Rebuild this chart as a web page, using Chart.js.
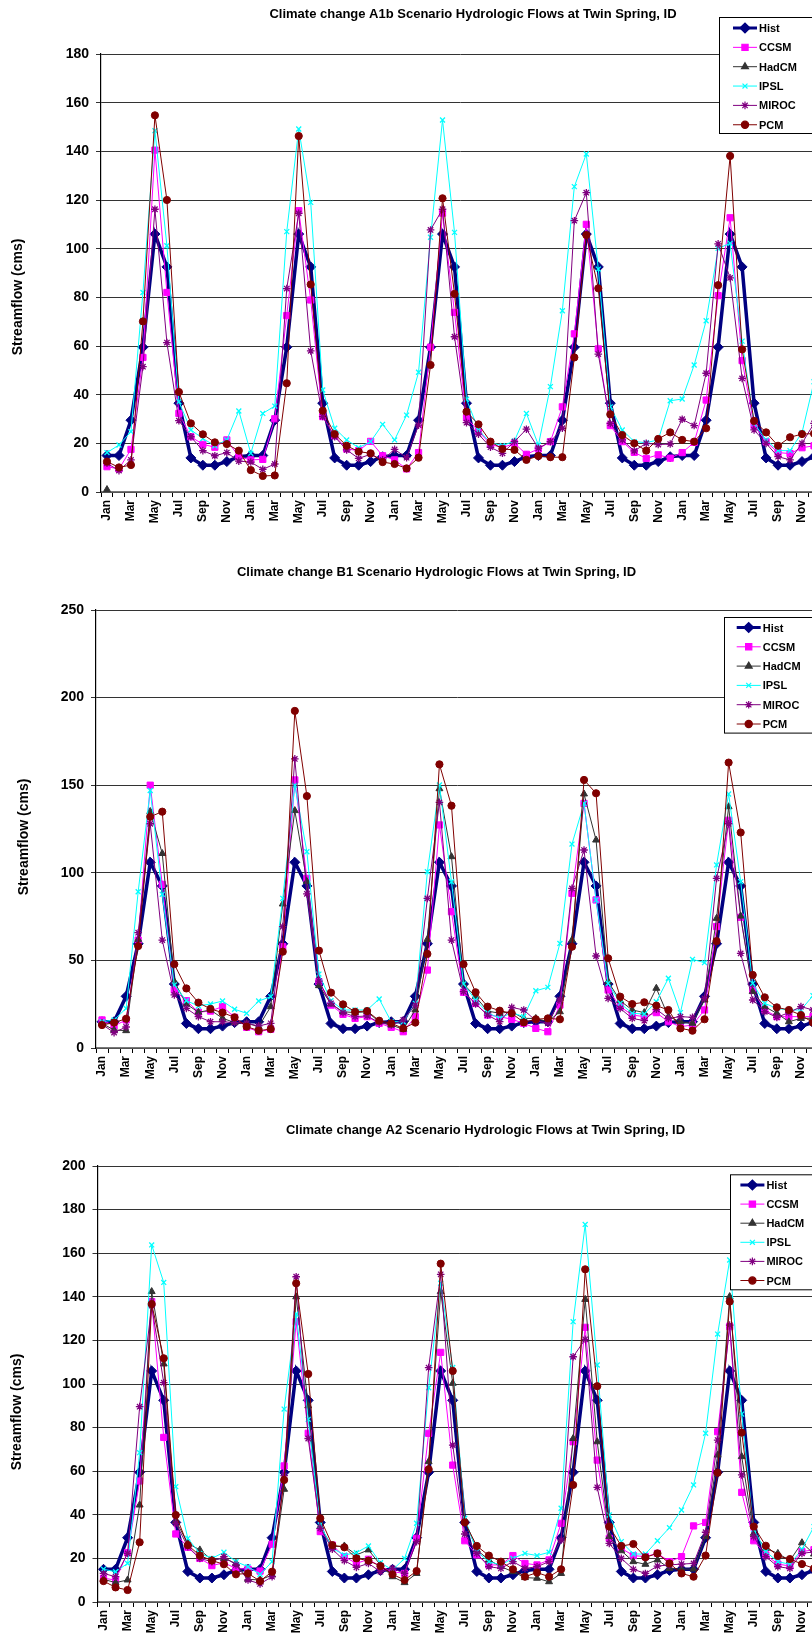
<!DOCTYPE html>
<html>
<head>
<meta charset="utf-8">
<script src="https://cdn.jsdelivr.net/npm/chart.js@4.4.0/dist/chart.umd.min.js"></script>
<style>
  html, body { margin: 0; padding: 0; background: #fff; }
  body { width: 812px; height: 1648px; overflow: hidden; position: relative; }
  canvas { position: absolute; left: 0; }
</style>
</head>
<body>
<canvas id="chartA1b" width="840" height="540" style="top:0px"></canvas>
<canvas id="chartB1" width="840" height="560" style="top:540px"></canvas>
<canvas id="chartA2" width="840" height="548" style="top:1100px"></canvas>
<script>
// month labels, five water years
const monthNames = ['Jan','Feb','Mar','Apr','May','Jun','Jul','Aug','Sep','Oct','Nov','Dec'];
const months = [].concat(monthNames, monthNames, monthNames, monthNames, monthNames);

// historical flows (same in every scenario)
const hist = [
  15, 15, 29.5, 59.5, 106, 92.5, 36.5, 14, 11, 11, 12.5, 14.5,
  15, 15, 29.5, 59.5, 106, 92.5, 36.5, 14, 11, 11, 12.5, 14.5,
  15, 15, 29.5, 59.5, 106, 92.5, 36.5, 14, 11, 11, 12.5, 14.5,
  15, 15, 29.5, 59.5, 106, 92.5, 36.5, 14, 11, 11, 12.5, 14.5,
  15, 15, 29.5, 59.5, 106, 92.5, 36.5, 14, 11, 11, 12.5, 14.5
];

// A1b scenario
const ccsmA1b = [
  10.4, 9.5, 17.5, 55.3, 140.5, 82, 32.3, 22.7, 19.6, 18.4, 21.4, 14.5,
  13.2, 13.4, 30.1, 72.5, 115.6, 78.9, 31, 23.1, 17.7, 17, 20.8, 14.9,
  13.2, 9.5, 16.2, 59.5, 114.6, 73.8, 30.5, 25, 19.6, 18.2, 20, 15.5,
  17.7, 20.7, 35, 65, 110, 58.8, 27.3, 20.7, 16.3, 13.8, 15.3, 13.9,
  16.2, 20.4, 37.8, 80.7, 112.7, 54, 27.3, 20.7, 16.2, 15.8, 18.2, 19
];
const hadcmA1b = [1];
const ipslA1b = [
  16.2, 19.3, 24.8, 82, 148.5, 101.2, 37.1, 25.5, 22, 19, 21.4, 33.3,
  15.9, 32.3, 35.3, 107, 149.2, 119, 41.9, 26.2, 21.4, 18.2, 20.7, 27.8,
  21.4, 31.6, 49.2, 104.7, 152.9, 106.7, 38.1, 25.5, 20.3, 19, 21, 32.3,
  19.3, 43.3, 74.5, 125.5, 138.9, 91.6, 35, 25.5, 20.7, 20.3, 21.4, 37.5,
  38.2, 52.2, 70.4, 100.1, 102.2, 62, 28.2, 21.4, 17, 17, 24.4, 45.3
];
const mirocA1b = [
  11.8, 8.8, 13.2, 51.5, 116.2, 61.4, 29.3, 22.7, 17, 14.9, 16.2, 12.7,
  12.3, 9.3, 11.5, 83.6, 114.5, 58, 31, 22.7, 17.3, 13.8, 15.5, 13.2,
  17.5, 14.1, 27.5, 107.7, 116.2, 63.8, 28.5, 23.8, 18.4, 15.9, 20.7, 25.8,
  18, 20.7, 26.2, 111.5, 123, 56.7, 28.2, 21.4, 16.9, 20, 19.5, 19.7,
  29.9, 27.3, 48.8, 102, 88, 46.7, 25.5, 20, 14.5, 13.2, 20, 28.2
];
const pcmA1b = [
  12.5, 10.1, 11.1, 70.1, 154.8, 120, 41.1, 28.2, 23.7, 20.4, 19.7, 17,
  9, 6.6, 6.8, 44.7, 146.3, 85.3, 33.4, 23.8, 19, 16.6, 15.9, 12.3,
  11.5, 9.7, 14.1, 52.2, 120.7, 81.4, 33, 27.8, 20.7, 17.7, 17.3, 13.2,
  14.8, 14.3, 14.3, 55.3, 105.6, 83.7, 31.9, 23.4, 20, 17, 21.8, 24.5,
  21.4, 20.7, 26.2, 85, 138.1, 58.6, 29.2, 24.5, 19, 22.5, 23.8, 24
];

// B1 scenario
const ccsmB1 = [
  16, 12.6, 16, 61.6, 150, 93.4, 33.1, 27, 20.4, 21.1, 23.6, 17.5,
  11.8, 9.3, 10.7, 57.8, 153, 96.8, 37.9, 24.5, 19.2, 16.9, 17.9, 14.1,
  11.8, 9.3, 17.9, 44.5, 127.3, 77.8, 31.8, 25.5, 18.8, 17.9, 16.4, 14.1,
  11.2, 9.3, 24.5, 88.3, 139.6, 84.5, 33.1, 23.6, 18.8, 17.9, 20.2, 15,
  12.2, 13.1, 21.7, 69.3, 130, 74.6, 33, 21.7, 17.9, 17.9, 17.9, 17.9
];
const hadcmB1 = [
  14, 10.3, 9.9, 62, 135, 111, 37.9, 25.1, 20.4, 21.7, 17, 14.5,
  14.1, 12.2, 23.6, 82.2, 135.5, 95, 35.6, 25.1, 20.7, 20.2, 20.7, 15,
  13.1, 10.7, 21.7, 62, 148, 109.2, 36.5, 29.3, 21.1, 19.8, 20.7, 16.9,
  16.9, 15, 20.7, 61.6, 145, 118.7, 37.9, 27, 21.7, 20.2, 34.1, 17.9,
  15, 14.1, 27.4, 74, 137.7, 75.3, 32.2, 23.6, 19.8, 15, 16.9, 17
];
const ipslB1 = [
  15, 16, 22.6, 89.2, 147, 87.7, 36, 27, 24, 25.1, 26.8, 22.1,
  19.8, 26.8, 29.3, 85.4, 150, 112, 42.2, 27, 21.7, 21.7, 21.7, 28,
  15, 15, 25.5, 100.6, 150.1, 94.9, 36.5, 27.4, 20.2, 16.9, 20.2, 17.9,
  32.7, 34.6, 59.7, 116.4, 139.6, 84.5, 36.9, 25.5, 19.8, 19.4, 26.4, 39.8,
  20.2, 50.6, 48.7, 104.5, 145, 95, 36.9, 25.5, 22.6, 21.7, 21.7, 29.9
];
const mirocB1 = [
  13.5, 8.8, 12, 65.8, 128, 61.6, 30.3, 22.6, 17.9, 15, 15, 14.5,
  14.1, 12.6, 14.1, 69.3, 165, 88, 38.2, 25.5, 20.2, 17.9, 18.3, 14.5,
  13.1, 16, 24.5, 85.4, 140.2, 61.6, 32.2, 25.1, 18.8, 15, 23.2, 21.7,
  15.6, 14.1, 27.4, 91.1, 113, 52.5, 28.3, 22.6, 16.9, 15.6, 22.1, 16.9,
  17.9, 17.5, 28.3, 96.8, 128, 54, 27.4, 20.7, 17.5, 20.2, 23.6, 21.7
];
const pcmB1 = [
  13.1, 14.5, 16.7, 58.2, 132, 134.9, 47.8, 34, 25.9, 22.3, 20.2, 17.5,
  12.2, 9.9, 10.8, 55, 192.4, 143.8, 55.6, 31.6, 24.9, 20.7, 21.1, 15.6,
  14.1, 11.2, 14.5, 53.7, 161.9, 138.3, 47.8, 31.8, 23.6, 21.3, 19.8, 14.6,
  16.4, 16.9, 16.4, 57.8, 153, 145.4, 51.2, 29.3, 25.1, 26.1, 24.2, 21.7,
  11.2, 9.9, 16.4, 61, 162.9, 123, 41.7, 28.9, 23.2, 21.7, 18.8, 14.5
];

// A2 scenario
const ccsmA2 = [
  10.9, 10.1, 22.6, 55.5, 137.8, 75.5, 31.2, 25.1, 20, 16.7, 18, 15.4,
  15.1, 14.2, 26.5, 62.4, 128.6, 77.4, 32.3, 26.1, 20.8, 17.7, 19.6, 16.2,
  13.9, 13.1, 29.2, 77.4, 114.5, 62.8, 28.1, 21.6, 17, 17, 21.3, 17.7,
  17, 19.3, 36.1, 73.5, 126, 65.1, 29.2, 24.6, 21.3, 20.8, 22.3, 18.5,
  20.8, 34.9, 36.5, 78.1, 126.3, 50.3, 28.1, 21.6, 17.4, 16.5, 23.1, 24
];
const hadcmA2 = [
  10.4, 8.9, 10.1, 44.5, 142.4, 109.2, 37.2, 26.9, 23.9, 19.3, 20, 17.7,
  10.4, 10.1, 12.4, 51.7, 140, 90, 34.6, 25.4, 25.7, 21.6, 23.9, 17,
  11.6, 8.9, 13.1, 64.4, 142.4, 100.3, 37.6, 23.9, 19.3, 16.2, 13.9, 11.2,
  10.9, 9.3, 13.1, 75, 138.8, 73.5, 30, 23.5, 18.5, 17.3, 19.3, 15.4,
  15.1, 15.1, 30, 67.4, 140.1, 66.7, 31.5, 24.6, 22.3, 19, 27.2, 22
];
const ipslA2 = [
  15, 13.9, 17.7, 68.5, 163.8, 146.6, 52.9, 29.2, 22.3, 20, 22.8, 18.5,
  16.2, 12.7, 18.5, 88.5, 132.1, 83.8, 35.3, 24.6, 21.6, 22.6, 25.7, 18,
  14.7, 20, 36.1, 98.3, 146.2, 107.6, 38.4, 23.1, 18.5, 17, 20, 22.3,
  21.3, 22.8, 43, 128.6, 173.2, 108.7, 39.9, 27.7, 22, 22, 28.1, 34.1,
  42.2, 53.7, 77.4, 122.9, 156.9, 86.2, 33.3, 23.1, 18.5, 17.3, 24.2, 34.6
];
const mirocA2 = [
  13.1, 11.6, 22.3, 89.6, 136, 100.6, 36.1, 25.4, 20, 18.5, 20.8, 17,
  10.1, 8.3, 11.6, 58, 149.2, 75, 33.8, 24.2, 19, 15.9, 17.7, 13.9,
  15.4, 13.1, 27.7, 107.5, 150.3, 72, 31.2, 22.3, 16.2, 15.4, 18.5, 15.4,
  16.2, 18.5, 28.4, 112.5, 120.5, 52.6, 26.9, 20, 15, 13.1, 16.5, 17,
  17.4, 17.7, 32, 74.3, 127, 58.3, 30, 20.8, 16.2, 15.4, 22.3, 23
];
const pcmA2 = [
  9.6, 6.7, 5.5, 27.4, 136.7, 111.8, 39.9, 26.1, 21.3, 19, 17.3, 12.7,
  13.1, 9.6, 13.9, 56, 146.2, 104.6, 38.4, 26.1, 25.1, 20, 19, 16.5,
  12.7, 10.1, 14.2, 60.9, 155.2, 106, 36.5, 25.7, 21.3, 18.5, 15, 11.6,
  13.5, 11.6, 15, 53.7, 152.6, 99, 34.6, 25.7, 26.6, 20.5, 22.3, 17.7,
  13.1, 11.6, 21.3, 59.3, 137.8, 77.7, 34.6, 25.8, 21.1, 19.7, 17.4, 15.4
];

const FONT = "Arial, 'Liberation Sans', sans-serif";
Chart.defaults.font.family = FONT;
Chart.defaults.color = '#000';

// line/marker look of each model
const seriesStyle = [
  { name: 'Hist',  color: '#000080', pointStyle: 'rectRot',  radius: 5,   width: 3.5 },
  { name: 'CCSM',  color: '#ff00ff', pointStyle: 'rect',     radius: 4.4, width: 1 },
  { name: 'HadCM', color: '#333333', pointStyle: 'triangle', radius: 4,   width: 1 },
  { name: 'IPSL',  color: '#00ffff', pointStyle: 'crossRot', radius: 3.5, width: 1 },
  { name: 'MIROC', color: '#800080', pointStyle: 'star',     radius: 3.8, width: 1 },
  { name: 'PCM',   color: '#800000', pointStyle: 'circle',   radius: 3.6, width: 1 }
];

// titles, axis title and the boxed legend
const decorPlugin = {
  id: 'decor',
  afterDraw(chart, args, opts) {
    const ctx = chart.ctx;
    ctx.save();
    ctx.fillStyle = '#000';
    ctx.font = 'bold 13px ' + FONT;
    ctx.textAlign = 'center';
    ctx.textBaseline = 'middle';
    ctx.fillText(opts.title, opts.titleX, opts.titleY);

    ctx.save();
    ctx.translate(opts.axisX, opts.axisY);
    ctx.rotate(-Math.PI / 2);
    ctx.font = 'bold 14px ' + FONT;
    ctx.fillText('Streamflow (cms)', 0, 0);
    ctx.restore();

    const lx = opts.legendX, ly = opts.legendY;
    ctx.fillStyle = '#fff';
    ctx.fillRect(lx, ly, 140, opts.legendH);
    ctx.strokeStyle = '#000';
    ctx.lineWidth = 1;
    ctx.strokeRect(lx + 0.5, ly + 0.5, 140, opts.legendH);

    ctx.font = 'bold 11px ' + FONT;
    ctx.textAlign = 'left';
    seriesStyle.forEach((s, i) => {
      const y = ly + opts.rowStart + i * opts.rowGap;
      const x0 = lx + opts.lineStart, x1 = x0 + 24;
      ctx.strokeStyle = s.color;
      ctx.fillStyle = s.color;
      ctx.lineWidth = s.name === 'Hist' ? 3 : 1;
      ctx.beginPath();
      ctx.moveTo(x0, y);
      ctx.lineTo(x1, y);
      ctx.stroke();
      ctx.lineWidth = 1.2;
      Chart.helpers.drawPoint(ctx, {
        pointStyle: s.pointStyle, radius: s.radius, rotation: 0, borderWidth: 1.2
      }, (x0 + x1) / 2, y);
      ctx.fillStyle = '#000';
      ctx.fillText(s.name, x1 + 2, y + 1);
    });
    ctx.restore();
  }
};

function makeChart(id, values, yMax, yStep, geo, decor) {
  const datasets = seriesStyle.map((s, i) => ({
    label: s.name,
    data: values[i],
    borderColor: s.color,
    backgroundColor: s.color,
    borderWidth: s.width,
    pointStyle: s.pointStyle,
    pointRadius: s.radius,
    pointBorderWidth: s.pointStyle === 'crossRot' || s.pointStyle === 'star' ? 1.3 : 1,
    pointBackgroundColor: s.color,
    pointBorderColor: s.color,
    tension: 0,
    order: seriesStyle.length - i
  }));

  return new Chart(document.getElementById(id), {
    type: 'line',
    data: { labels: months, datasets: datasets },
    options: {
      responsive: false,
      animation: false,
      devicePixelRatio: 1,
      layout: { padding: { left: 0, right: geo.right, top: geo.top, bottom: 0 } },
      plugins: {
        legend: { display: false },
        tooltip: { enabled: false },
        decor: decor
      },
      scales: {
        x: {
          offset: true,
          afterFit: s => { s.height = geo.xHeight; },
          grid: { offset: true, drawOnChartArea: false, drawTicks: true, tickLength: 5, color: '#000' },
          border: { color: '#777', width: 1.5 },
          ticks: {
            autoSkip: false, maxRotation: 90, minRotation: 90, padding: 3,
            font: { size: 12, weight: 'bold' },
            callback: (v, i) => (i % 2 === 0 ? months[i] : '')
          }
        },
        y: {
          min: 0, max: yMax,
          afterFit: s => { s.width = geo.yWidth; },
          grid: { color: '#333', lineWidth: 1, tickLength: 5 },
          border: { color: '#000', width: 1.2 },
          ticks: { stepSize: yStep, padding: 7, font: { size: 14, weight: 'bold' } }
        }
      }
    },
    plugins: [decorPlugin]
  });
}

makeChart('chartA1b',
  [hist, ccsmA1b, hadcmA1b, ipslA1b, mirocA1b, pcmA1b], 180, 20,
  { top: 54, right: 20, yWidth: 101, xHeight: 48 },
  { title: 'Climate change A1b Scenario Hydrologic Flows at Twin Spring, ID', titleX: 473, titleY: 14,
    axisX: 18.5, axisY: 297, legendX: 719, legendY: 17, legendH: 116, rowStart: 11, rowGap: 19.35, lineStart: 14 });

makeChart('chartB1',
  [hist, ccsmB1, hadcmB1, ipslB1, mirocB1, pcmB1], 250, 50,
  { top: 70, right: 21, yWidth: 96, xHeight: 52 },
  { title: 'Climate change B1 Scenario Hydrologic Flows at Twin Spring, ID', titleX: 436.5, titleY: 32,
    axisX: 24, axisY: 297, legendX: 724, legendY: 77, legendH: 115.6, rowStart: 10.5, rowGap: 19.3, lineStart: 12.7 });

makeChart('chartA2',
  [hist, ccsmA2, hadcmA2, ipslA2, mirocA2, pcmA2], 200, 20,
  { top: 66, right: 20, yWidth: 97.5, xHeight: 46 },
  { title: 'Climate change A2 Scenario Hydrologic Flows at Twin Spring, ID', titleX: 485.5, titleY: 30,
    axisX: 17, axisY: 312, legendX: 730, legendY: 74.3, legendH: 115, rowStart: 10.7, rowGap: 19.1, lineStart: 10.4 });
</script>
</body>
</html>
